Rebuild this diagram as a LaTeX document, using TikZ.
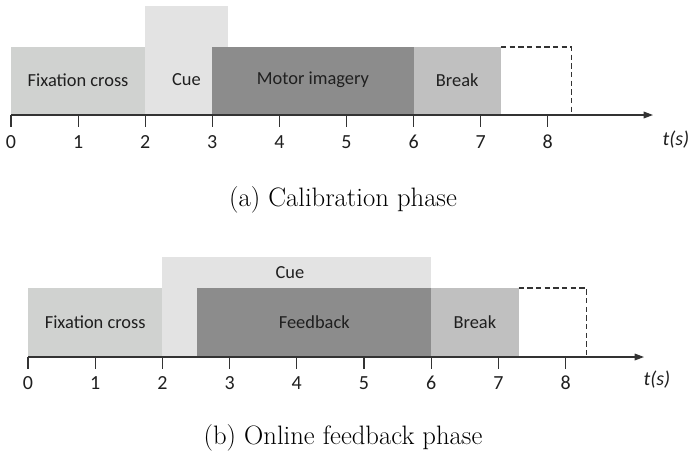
\documentclass[tikz,border=0pt]{standalone}
\usepackage{fontspec}
\newfontfamily\carl{Carlito}
\usetikzlibrary{arrows.meta}
\definecolor{fixc}{HTML}{D0D2D0}
\definecolor{cuec}{HTML}{E3E3E3}
\definecolor{motc}{HTML}{8C8C8C}
\definecolor{brkc}{HTML}{C0C0C0}
\definecolor{axc}{HTML}{333333}
\tikzset{
  lbl/.style={font=\carl\fontsize{13.8}{16}\selectfont, text=black!88, inner sep=0pt},
  ticklbl/.style={font=\carl\fontsize{15}{17}\selectfont, text=black!88, inner sep=0pt},
  axisline/.style={draw=axc, line width=0.9pt, -{Triangle[length=7pt,width=5pt]}},
  tickline/.style={draw=axc, line width=0.9pt},
  dashbox/.style={draw=axc, line width=0.8pt, dash pattern=on 4pt off 2.5pt},
  capt/.style={font=\fontsize{20}{24}\selectfont, inner sep=0pt}
}
\begin{document}
\begin{tikzpicture}[x=0.75pt,y=-0.75pt]
\useasboundingbox (0,0) rectangle (691,461);
% ---------- (a) ----------
\def\ua{67.1}
\def\xa{11}
\fill[cuec] (\xa+2*\ua,6) rectangle (\xa+3.23*\ua,115);
\fill[fixc] (\xa,47) rectangle (\xa+2*\ua,115);
\fill[motc] (\xa+3*\ua,47) rectangle (\xa+6*\ua,115);
\fill[brkc] (\xa+6*\ua,47) rectangle (\xa+7.3*\ua,115);
\coordinate (ad1) at (\xa+7.3*\ua,47);
\coordinate (ad2) at (\xa+8.35*\ua,47);
\coordinate (ad3) at (\xa+8.35*\ua,115);
\draw[dashbox] (ad1) -- (ad2) -- (ad3);
\node[lbl] (afix) at (\xa+1*\ua,80) {Fixation cross};
\node[lbl] (acue) at (\xa+2.615*\ua,80) {Cue};
\node[lbl] (amot) at (\xa+4.5*\ua,80) {Motor imagery};
\node[lbl] (abrk) at (\xa+6.65*\ua,80) {Break};
\coordinate (aax0) at (\xa,115);
\coordinate (aax1) at (653,115);
\draw[axisline] (aax0) -- (aax1);
\foreach \i in {0,...,8} {
  \draw[tickline] (\xa+\i*\ua,115) -- (\xa+\i*\ua,127);
  \node[ticklbl] (at\i) at (\xa+\i*\ua,142) {\i};
}
\node[lbl, font=\carl\itshape\fontsize{15}{17}\selectfont] (ats) at (676,140) {t(s)};
\node[capt] (capa) at (343,200) {(a) Calibration phase};
% ---------- (b) ----------
\def\ub{67.2}
\def\xb{28}
\fill[cuec] (\xb+2*\ub,257) rectangle (\xb+6*\ub,357);
\fill[fixc] (\xb,288) rectangle (\xb+2*\ub,357);
\fill[motc] (\xb+2.52*\ub,288) rectangle (\xb+6*\ub,357);
\fill[brkc] (\xb+6*\ub,288) rectangle (\xb+7.3*\ub,357);
\coordinate (bd1) at (\xb+7.3*\ub,288);
\coordinate (bd2) at (\xb+8.31*\ub,288);
\coordinate (bd3) at (\xb+8.31*\ub,357);
\draw[dashbox] (bd1) -- (bd2) -- (bd3);
\node[lbl] (bfix) at (\xb+1*\ub,322) {Fixation cross};
\node[lbl] (bcue) at (290,273) {Cue};
\node[lbl] (bfed) at (\xb+4.26*\ub,322) {Feedback};
\node[lbl] (bbrk) at (\xb+6.65*\ub,322) {Break};
\coordinate (bax0) at (\xb,357);
\coordinate (bax1) at (644,357);
\draw[axisline] (bax0) -- (bax1);
\foreach \i in {0,...,8} {
  \draw[tickline] (\xb+\i*\ub,357) -- (\xb+\i*\ub,369);
  \node[ticklbl] (bt\i) at (\xb+\i*\ub,383) {\i};
}
\node[lbl, font=\carl\itshape\fontsize{15}{17}\selectfont] (bts) at (657,380) {t(s)};
\node[capt] (capb) at (343,438) {(b) Online feedback phase};
\end{tikzpicture}
\end{document}
